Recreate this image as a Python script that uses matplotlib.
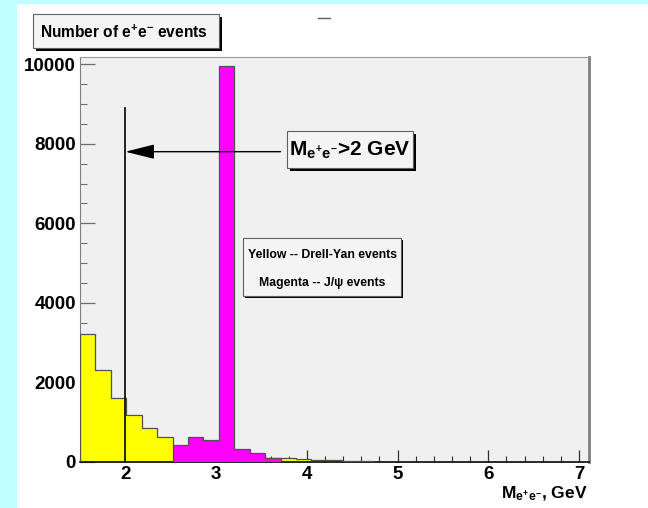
import matplotlib
matplotlib.use("Agg")
import matplotlib.pyplot as plt
from matplotlib.patches import Rectangle
from matplotlib.lines import Line2D
import numpy as np

plt.rcParams["font.family"] = ["Liberation Sans", "DejaVu Sans"]
plt.rcParams["font.weight"] = "bold"
plt.rcParams["mathtext.fontset"] = "custom"
plt.rcParams["mathtext.rm"] = "Liberation Sans:bold"
plt.rcParams["mathtext.it"] = "Liberation Sans:bold"
plt.rcParams["mathtext.bf"] = "Liberation Sans:bold"

# histogram binning (33 bins of 0.17 GeV from 1.5 GeV)
bin_edges = np.linspace(1.5, 7.11, 34)

# Drell-Yan events (yellow)
drell_yan = [3220, 2300, 1600, 1170, 850, 625,
             400, 330, 280, 240, 200, 160, 100,
             90, 65, 40, 38, 32, 25, 5, 4, 3, 3, 2, 2, 8, 2, 1, 1, 1, 1, 0, 0]

# J/psi events (magenta, drawn on top)
jpsi = [0, 0, 0, 0, 0, 0,
        420, 620, 550, 9950, 330, 225, 110,
        0, 0, 0, 0, 0, 0, 0, 0, 0, 0, 0, 0, 0, 0, 0, 0, 0, 0, 0, 0]

cut_value = 2.0
cut_line_top = 8900
arrow_y = 7800
arrow_start = 3.71

W, H = 648, 508
fig = plt.figure(figsize=(W / 100, H / 100), dpi=100, facecolor="white")


def px_rect(x0, y0, x1, y1):
    # pixel box (top-left origin) -> figure fractions
    return x0 / W, 1 - y1 / H, (x1 - x0) / W, (y1 - y0) / H


# cyan page border
for r in [(0, 0, 17, H), (0, 0, W, 4)]:
    x, y, w, h = px_rect(*r)
    fig.patches.append(Rectangle((x, y), w, h, transform=fig.transFigure,
                                 facecolor="#c0ffff", edgecolor="none", zorder=0))

ax = fig.add_axes([80 / W, 1 - 462 / H, 509 / W, 405 / H])
ax.set_facecolor("#f0f0f0")

ax.stairs(drell_yan, bin_edges, fill=True, color="#ffff00", zorder=2)
ax.stairs(drell_yan, bin_edges, color="#505050", lw=0.9, zorder=3)
ax.stairs(jpsi, bin_edges, fill=True, color="#ff00ff", zorder=4)
ax.stairs(jpsi, bin_edges, color="#505050", lw=0.9, zorder=5)

ax.plot([cut_value, cut_value], [0, cut_line_top], color="black", lw=1.2, zorder=6)
ax.annotate("", xy=(cut_value, arrow_y), xytext=(arrow_start, arrow_y),
            arrowprops=dict(arrowstyle="-|>,head_length=1.2,head_width=0.3",
                            mutation_scale=15, color="black", lw=1,
                            shrinkA=0, shrinkB=0), zorder=6)

ax.set_xlim(1.5, 7.11)
ax.set_ylim(0, 10180)
ax.set_xticks([2, 3, 4, 5, 6, 7])
ax.set_xticks(np.arange(1.6, 7.11, 0.2), minor=True)
ax.set_yticks([0, 2000, 4000, 6000, 8000, 10000])
ax.set_yticks(np.arange(0, 10001, 500), minor=True)
ax.tick_params(axis="x", which="major", direction="in", length=8.6, width=0.9,
               color="#303030", labelsize=13.5, pad=3)
ax.tick_params(axis="x", which="minor", direction="in", length=4.3, width=0.8,
               color="#303030")
ax.tick_params(axis="y", which="major", direction="in", length=10.8, width=0.9,
               color="#707070", labelsize=13.5, pad=3)
ax.tick_params(axis="y", which="minor", direction="in", length=5, width=0.8,
               color="#707070")
for lab in ax.get_xticklabels() + ax.get_yticklabels():
    lab.set_fontweight("bold")

ax.spines["left"].set_color("#7f7f7f")
ax.spines["bottom"].set_color("black")
ax.spines["bottom"].set_linewidth(1.2)
ax.spines["top"].set_color("#9a9a9a")
ax.spines["right"].set_color("#7f7f7f")
ax.spines["right"].set_linewidth(2)


def shadow_box(x0, y0, x1, y1, sh=3):
    x, y, w, h = px_rect(x0 + sh, y0 + sh, x1 + sh, y1 + sh)
    fig.patches.append(Rectangle((x, y), w, h, transform=fig.transFigure,
                                 facecolor="black", edgecolor="none", zorder=10))
    x, y, w, h = px_rect(x0, y0, x1, y1)
    fig.patches.append(Rectangle((x, y), w, h, transform=fig.transFigure,
                                 facecolor="#f4f4f4", edgecolor="#606060",
                                 lw=0.8, zorder=11))


# title pave
shadow_box(33, 14, 219, 48)
fig.text(124 / W, 1 - 32 / H, r"Number of e$^{+}$e$^{-}$ events", ha="center",
         va="center", fontsize=11.2, fontweight="bold", zorder=12)

# cut label pave
shadow_box(287, 131, 413, 168)
fig.text(350 / W, 1 - 150 / H, r"M$_{e^{+}e^{-}}$>2 GeV", ha="center",
         va="center", fontsize=15, fontweight="bold", zorder=12)

# legend pave
shadow_box(243, 238, 401, 296, sh=2)
fig.text(322 / W, 1 - 255 / H, "Yellow -- Drell-Yan events", ha="center",
         va="center", fontsize=8.8, fontweight="bold", zorder=12)
fig.text(322 / W, 1 - 283 / H, "Magenta -- J/\u03c8 events", ha="center",
         va="center", fontsize=8.8, fontweight="bold", zorder=12)

# empty title stub
fig.lines.append(Line2D([318 / W, 330 / W], [1 - 18 / H, 1 - 18 / H],
                        transform=fig.transFigure, color="#606060", lw=1))

fig.text(588 / W, 1 - 494 / H, r"M$_{e^{+}e^{-}}$, GeV", ha="right",
         va="center", fontsize=12.5, fontweight="bold")

fig.savefig("out.png", dpi=100, facecolor="white")
